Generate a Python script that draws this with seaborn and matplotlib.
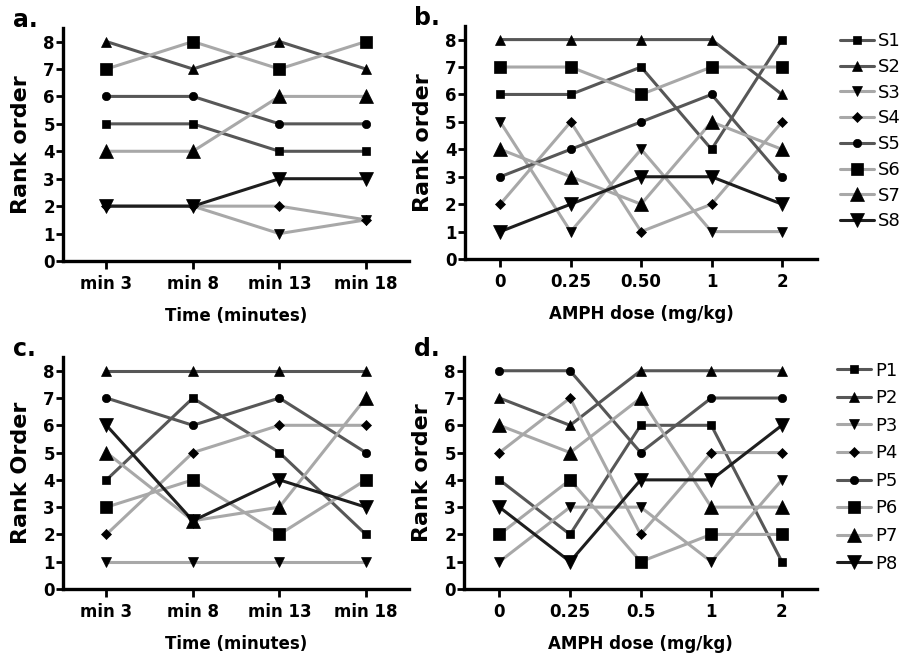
import matplotlib
matplotlib.use("Agg")
import matplotlib.pyplot as plt
import seaborn as sns
import pandas as pd

# ---------------- data ----------------
time_labels = ["min 3", "min 8", "min 13", "min 18"]
dose_labels_b = ["0", "0.25", "0.50", "1", "2"]
dose_labels_d = ["0", "0.25", "0.5", "1", "2"]

s_names = ["S1", "S2", "S3", "S4", "S5", "S6", "S7", "S8"]
p_names = ["P1", "P2", "P3", "P4", "P5", "P6", "P7", "P8"]

# panel a: rank order over time (S subjects)
a_S1 = [5, 5, 4, 4]
a_S2 = [8, 7, 8, 7]
a_S3 = [2, 2, 1, 1.5]
a_S4 = [2, 2, 2, 1.5]
a_S5 = [6, 6, 5, 5]
a_S6 = [7, 8, 7, 8]
a_S7 = [4, 4, 6, 6]
a_S8 = [2, 2, 3, 3]

# panel b: rank order over AMPH dose (S subjects)
b_S1 = [6, 6, 7, 4, 8]
b_S2 = [8, 8, 8, 8, 6]
b_S3 = [5, 1, 4, 1, 1]
b_S4 = [2, 5, 1, 2, 5]
b_S5 = [3, 4, 5, 6, 3]
b_S6 = [7, 7, 6, 7, 7]
b_S7 = [4, 3, 2, 5, 4]
b_S8 = [1, 2, 3, 3, 2]

# panel c: rank order over time (P subjects)
c_P1 = [4, 7, 5, 2]
c_P2 = [8, 8, 8, 8]
c_P3 = [1, 1, 1, 1]
c_P4 = [2, 5, 6, 6]
c_P5 = [7, 6, 7, 5]
c_P6 = [3, 4, 2, 4]
c_P7 = [5, 2.5, 3, 7]
c_P8 = [6, 2.5, 4, 3]

# panel d: rank order over AMPH dose (P subjects)
d_P1 = [4, 2, 6, 6, 1]
d_P2 = [7, 6, 8, 8, 8]
d_P3 = [1, 3, 3, 1, 4]
d_P4 = [5, 7, 2, 5, 5]
d_P5 = [8, 8, 5, 7, 7]
d_P6 = [2, 4, 1, 2, 2]
d_P7 = [6, 5, 7, 3, 3]
d_P8 = [3, 1, 4, 4, 6]

y_ticks = [0, 1, 2, 3, 4, 5, 6, 7, 8]

# ---------------- style ----------------
sns.set_style("ticks")
plt.rcParams["font.family"] = ["DejaVu Sans"]
plt.rcParams["text.color"] = "black"
plt.rcParams["axes.labelcolor"] = "black"
plt.rcParams["xtick.color"] = "black"
plt.rcParams["ytick.color"] = "black"

DARK = "#575757"
LIGHT = "#a8a8a8"
BLACK = "#1e1e1e"
# (line colour, marker, marker size) for series 1..8
styles = [
    (DARK, "s", 6.0),
    (DARK, "^", 6.5),
    (LIGHT, "v", 6.5),
    (LIGHT, "D", 5.0),
    (DARK, "o", 6.0),
    (LIGHT, "s", 9.0),
    (LIGHT, "^", 10.0),
    (BLACK, "v", 10.0),
]

fig = plt.figure(figsize=(9.03, 6.55), dpi=100)

axes_pos = {
    "a": [0.070, 0.6015, 0.383, 0.356],
    "b": [0.515, 0.6045, 0.390, 0.356],
    "c": [0.070, 0.1008, 0.383, 0.354],
    "d": [0.514, 0.1008, 0.391, 0.354],
}

panels = [
    ("a", time_labels, [a_S1, a_S2, a_S3, a_S4, a_S5, a_S6, a_S7, a_S8], s_names,
     "Time (minutes)", "Rank order"),
    ("b", dose_labels_b, [b_S1, b_S2, b_S3, b_S4, b_S5, b_S6, b_S7, b_S8], s_names,
     "AMPH dose (mg/kg)", "Rank order"),
    ("c", time_labels, [c_P1, c_P2, c_P3, c_P4, c_P5, c_P6, c_P7, c_P8], p_names,
     "Time (minutes)", "Rank Order"),
    ("d", dose_labels_d, [d_P1, d_P2, d_P3, d_P4, d_P5, d_P6, d_P7, d_P8], p_names,
     "AMPH dose (mg/kg)", "Rank order"),
]

legend_opts = {"b": ((0.930, 0.951), 0.43), "d": ((0.927, 0.448), 0.53)}

for key, cats, series, names, xlab, ylab in panels:
    ax = fig.add_axes(axes_pos[key])
    pos = list(range(len(cats)))
    handles = []
    for vals, name, (col, mk, ms) in zip(series, names, styles):
        df = pd.DataFrame({"x": pos, "y": vals})
        sns.lineplot(data=df, x="x", y="y", ax=ax, color=col, linewidth=2.2,
                     marker=mk, markersize=ms, markerfacecolor="black",
                     markeredgecolor="black", markeredgewidth=0.5,
                     sort=False, legend=False, label=name)
        handles.append(ax.lines[-1])
    ax.set_xlim(-0.5, len(cats) - 0.5)
    ax.set_ylim(0, 8.5)
    ax.set_xticks(pos)
    ax.set_xticklabels(cats)
    ax.set_yticks(y_ticks)
    ax.set_yticklabels([str(t) for t in y_ticks])
    for lab in ax.get_xticklabels() + ax.get_yticklabels():
        lab.set_fontweight("bold")
        lab.set_fontsize(12)
        lab.set_color("black")
    ax.tick_params(axis="y", length=5, width=2, pad=1, direction="out", colors="black")
    ax.tick_params(axis="x", length=6, width=2, pad=4, direction="out", colors="black")
    for side in ["top", "right"]:
        ax.spines[side].set_visible(False)
    for side in ["left", "bottom"]:
        ax.spines[side].set_linewidth(2.4)
        ax.spines[side].set_color("black")
    ax.set_xlabel(xlab, fontsize=12, fontweight="bold", labelpad=10, color="black")
    ax.set_ylabel(ylab, fontsize=16, fontweight="bold", labelpad=9, color="black")
    ax.grid(False)
    bb = ax.get_position()
    fig.text(bb.x0 - 0.056, bb.y1 + 0.001, key + ".", fontsize=17,
             fontweight="bold", ha="left", va="baseline", color="black")
    if key in legend_opts:
        anchor, spacing = legend_opts[key]
        fig.legend(handles=handles, labels=names, loc="upper left",
                   bbox_to_anchor=anchor, frameon=False,
                   fontsize=13, handlelength=1.9, handletextpad=0.2,
                   labelspacing=spacing, borderpad=0, borderaxespad=0)

fig.savefig("out.png", dpi=100)
